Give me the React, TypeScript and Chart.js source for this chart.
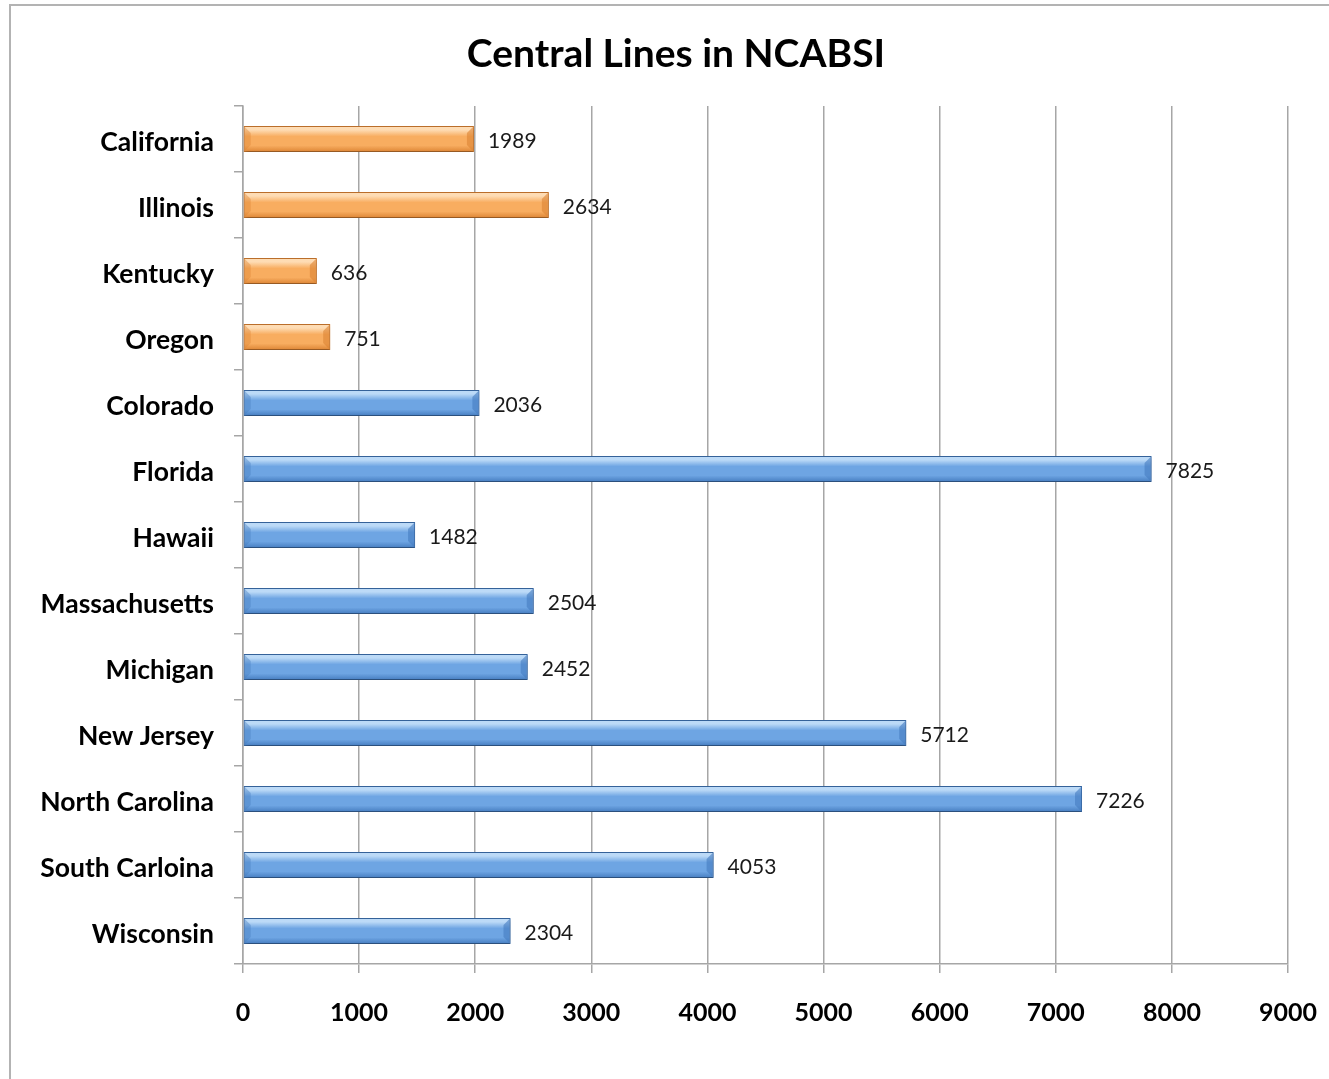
import { useEffect, useRef } from 'react';
import { Chart, registerables } from 'chart.js';

Chart.register(...registerables);

const chartTitle = 'Central Lines in NCABSI';
const states = [
  'California',
  'Illinois',
  'Kentucky',
  'Oregon',
  'Colorado',
  'Florida',
  'Hawaii',
  'Massachusetts',
  'Michigan',
  'New Jersey',
  'North Carolina',
  'South Carloina',
  'Wisconsin',
];
const centralLines = [1989, 2634, 636, 751, 2036, 7825, 1482, 2504, 2452, 5712, 7226, 4053, 2304];
const stateGroup = [
  'orange', 'orange', 'orange', 'orange',
  'blue', 'blue', 'blue', 'blue', 'blue', 'blue', 'blue', 'blue', 'blue',
];
const xMin = 0;
const xMax = 9000;
const xStep = 1000;

const palette: Record<string, { light: string; mid: string; dark: string; edge: string }> = {
  orange: { light: '#fedcb4', mid: '#f8ad60', dark: '#dc8434', edge: '#c0722c' },
  blue: { light: '#bcdaf7', mid: '#6ea5e3', dark: '#457cbf', edge: '#37659e' },
};

const FONT = 'Lato, "Open Sans", "DejaVu Sans", sans-serif';
const HALF_BAR = 13;

const barGradient = (ctx: any) => {
  const p = palette[stateGroup[ctx.dataIndex]] || palette.blue;
  const chart = ctx.chart;
  const yScale = chart.scales && chart.scales.y;
  if (!yScale || ctx.type !== 'data') return p.mid;
  const c = yScale.getPixelForValue(ctx.dataIndex);
  if (!Number.isFinite(c)) return p.mid;
  const g = chart.ctx.createLinearGradient(0, c - HALF_BAR, 0, c + HALF_BAR);
  g.addColorStop(0, p.light);
  g.addColorStop(0.15, p.light);
  g.addColorStop(0.4, p.mid);
  g.addColorStop(0.75, p.mid);
  g.addColorStop(1, p.dark);
  return g;
};

// soft drop shadow under the bars
const shadowPlugin = {
  id: 'barShadow',
  beforeDatasetsDraw(chart: any) {
    const c = chart.ctx;
    c.save();
    c.shadowColor = 'rgba(0,0,0,0.28)';
    c.shadowBlur = 4;
    c.shadowOffsetX = 1;
    c.shadowOffsetY = 2;
  },
  afterDatasetsDraw(chart: any) {
    chart.ctx.restore();
  },
};

// bevelled ends and value labels
const barDecorPlugin = {
  id: 'barDecor',
  afterDatasetsDraw(chart: any) {
    const c = chart.ctx;
    const meta = chart.getDatasetMeta(0);
    c.save();
    meta.data.forEach((el: any, i: number) => {
      const p = palette[stateGroup[i]] || palette.blue;
      const x1 = el.base;
      const x2 = el.x;
      const y1 = el.y - el.height / 2;
      const y2 = el.y + el.height / 2;
      const b = 7;
      // right face
      c.fillStyle = p.dark;
      c.globalAlpha = 0.6;
      c.beginPath();
      c.moveTo(x2 - b, y1 + b);
      c.lineTo(x2, y1);
      c.lineTo(x2, y2);
      c.lineTo(x2 - b, y2 - b);
      c.closePath();
      c.fill();
      // left face
      c.fillStyle = p.dark;
      c.globalAlpha = 0.4;
      c.beginPath();
      c.moveTo(x1, y1);
      c.lineTo(x1 + b, y1 + b);
      c.lineTo(x1 + b, y2 - b);
      c.lineTo(x1, y2);
      c.closePath();
      c.fill();
      c.globalAlpha = 1;
      // value label
      c.fillStyle = '#1a1a1a';
      c.font = `21px ${FONT}`;
      c.textAlign = 'left';
      c.textBaseline = 'middle';
      c.fillText(String(centralLines[i]), x2 + 14, el.y + 2);
    });
    c.restore();
  },
};

// title and the outer frame lines
const framePlugin = {
  id: 'frameTitle',
  afterDraw(chart: any) {
    const c = chart.ctx;
    c.save();
    c.strokeStyle = '#b3b3b3';
    c.lineWidth = 2;
    c.beginPath();
    c.moveTo(10, chart.height);
    c.lineTo(10, 5);
    c.lineTo(chart.width, 5);
    c.stroke();
    c.fillStyle = '#000';
    c.font = `bold 39px ${FONT}`;
    c.textAlign = 'center';
    c.textBaseline = 'middle';
    c.fillText(chartTitle, 676, 54);
    c.restore();
  },
};

export default function App() {
  const canvasRef = useRef<HTMLCanvasElement | null>(null);

  useEffect(() => {
    if (!canvasRef.current) return;
    const chart = new Chart(canvasRef.current, {
      type: 'bar',
      data: {
        labels: states,
        datasets: [
          {
            data: centralLines,
            backgroundColor: barGradient,
            borderColor: states.map((_, i) => (palette[stateGroup[i]] || palette.blue).edge),
            borderWidth: 1,
            borderSkipped: false,
            barPercentage: 26 / 66,
            categoryPercentage: 1,
          },
        ],
      },
      options: {
        indexAxis: 'y',
        animation: false,
        responsive: false,
        maintainAspectRatio: false,
        layout: { padding: { top: 106, right: 41, bottom: 0, left: 0 } },
        plugins: {
          legend: { display: false },
          tooltip: { enabled: false },
          title: { display: false },
        },
        scales: {
          x: {
            min: xMin,
            max: xMax,
            ticks: {
              stepSize: xStep,
              color: '#000',
              font: { family: FONT, size: 25, weight: 'bold' },
              padding: 25,
              callback: (v: any) => String(v),
            },
            grid: {
              color: '#a6a6a6',
              lineWidth: 1.5,
              tickLength: 9,
              drawOnChartArea: true,
            },
            border: { display: true, color: '#a6a6a6', width: 1.5 },
            afterFit(scale: any) {
              scale.height = 115;
              scale.paddingLeft = 0;
              scale.paddingRight = 0;
            },
          },
          y: {
            ticks: {
              color: '#000',
              font: { family: FONT, size: 26.5, weight: 'bold' },
              padding: 20,
              labelOffset: 3,
            },
            grid: {
              offset: true,
              drawOnChartArea: false,
              color: '#a6a6a6',
              lineWidth: 1.5,
              tickLength: 9,
            },
            border: { display: true, color: '#a6a6a6', width: 1.5 },
            afterFit(scale: any) {
              scale.width = 243;
              scale.paddingTop = 0;
              scale.paddingBottom = 0;
            },
          },
        },
      },
      plugins: [shadowPlugin, barDecorPlugin, framePlugin],
    });
    return () => chart.destroy();
  }, []);

  return (
    <div
      style={{
        position: 'absolute',
        left: 0,
        top: 0,
        width: 1329,
        height: 1079,
        overflow: 'hidden',
        background: '#fff',
      }}
    >
      <canvas ref={canvasRef} width={1329} height={1079} style={{ display: 'block' }} />
    </div>
  );
}
